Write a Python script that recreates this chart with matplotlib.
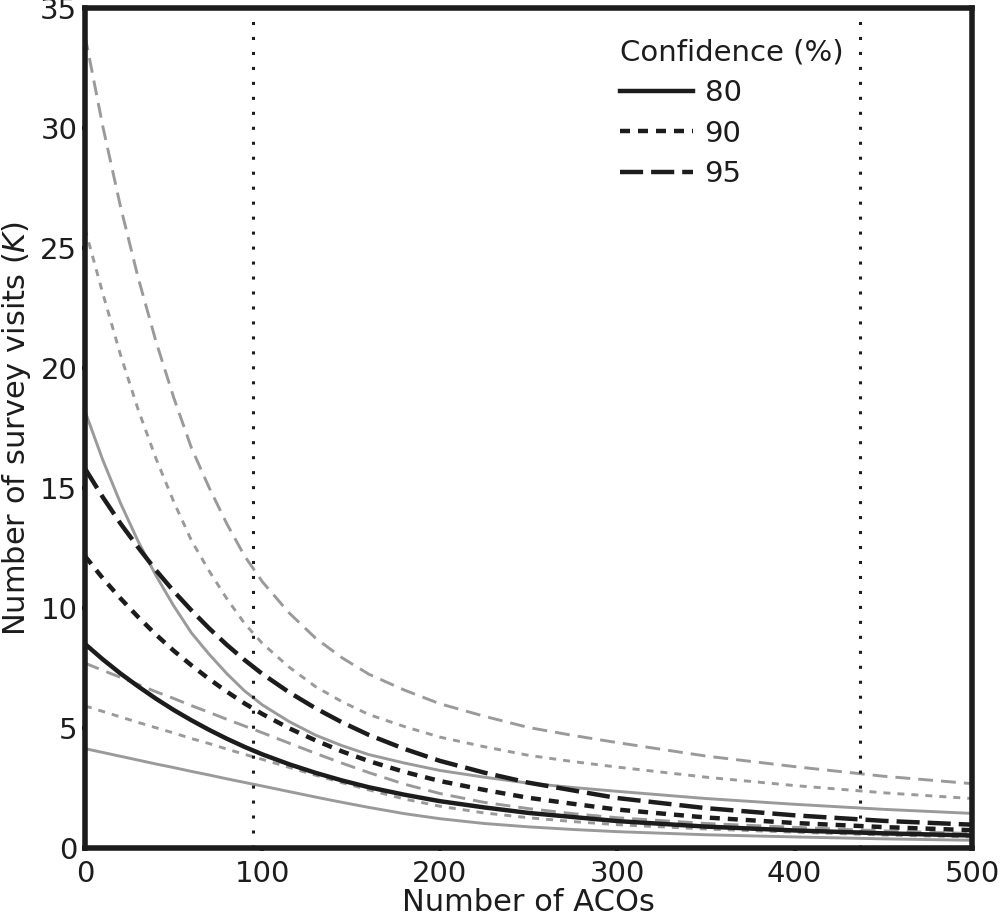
import numpy as np
import matplotlib
matplotlib.use('Agg')
import matplotlib.pyplot as plt
from matplotlib import rcParams

rcParams['font.family'] = ['DejaVu Sans']
rcParams['mathtext.fontset'] = 'dejavusans'

n_acos = [0, 10, 20, 30, 40, 50, 60, 70, 80, 90, 100, 115, 130, 145, 160,
          180, 200, 225, 250, 275, 300, 350, 400, 450, 500]

# black curves (middle scenario)
k_mid_80 = [8.50, 7.86, 7.27, 6.73, 6.22, 5.75, 5.32, 4.92, 4.55, 4.21, 3.90, 3.49, 3.13,
            2.81, 2.53, 2.22, 1.95, 1.69, 1.46, 1.29, 1.12, 0.89, 0.73, 0.61, 0.52]
k_mid_90 = [12.16, 11.24, 10.40, 9.62, 8.89, 8.22, 7.61, 7.04, 6.51, 6.02, 5.58, 4.99, 4.48,
            4.02, 3.62, 3.17, 2.79, 2.42, 2.09, 1.84, 1.60, 1.27, 1.04, 0.87, 0.74]
k_mid_95 = [15.81, 14.62, 13.52, 12.52, 11.57, 10.70, 9.90, 9.15, 8.46, 7.83, 7.25, 6.49, 5.82,
            5.23, 4.71, 4.13, 3.63, 3.14, 2.72, 2.40, 2.08, 1.66, 1.36, 1.13, 0.97]

# grey curves, upper scenario
k_hi_80 = [18.2, 16.17, 14.37, 12.77, 11.35, 10.09, 8.96, 8.07, 7.26, 6.54, 5.96, 5.27, 4.70,
           4.26, 3.89, 3.54, 3.23, 2.95, 2.70, 2.52, 2.36, 2.06, 1.82, 1.61, 1.44]
k_hi_90 = [25.8, 23.12, 20.55, 18.26, 16.23, 14.43, 12.81, 11.54, 10.38, 9.35, 8.52, 7.54, 6.72,
           6.09, 5.56, 5.06, 4.62, 4.22, 3.86, 3.60, 3.37, 2.95, 2.60, 2.30, 2.06]
k_hi_95 = [33.85, 30.08, 26.73, 23.75, 21.11, 18.77, 16.67, 15.01, 13.50, 12.16, 11.09, 9.80, 8.74,
           7.92, 7.24, 6.58, 6.01, 5.49, 5.02, 4.69, 4.39, 3.83, 3.39, 2.99, 2.68]

# grey curves, lower scenario
k_lo_80 = [4.14, 3.98, 3.82, 3.66, 3.50, 3.35, 3.19, 3.04, 2.88, 2.73, 2.58, 2.35, 2.12,
           1.90, 1.69, 1.43, 1.22, 1.02, 0.88, 0.77, 0.68, 0.55, 0.46, 0.38, 0.32]
k_lo_90 = [5.92, 5.69, 5.46, 5.23, 5.01, 4.79, 4.56, 4.35, 4.12, 3.90, 3.69, 3.36, 3.03,
           2.72, 2.42, 2.04, 1.74, 1.46, 1.26, 1.10, 0.97, 0.79, 0.66, 0.54, 0.46]
k_lo_95 = [7.70, 7.40, 7.11, 6.81, 6.51, 6.23, 5.93, 5.65, 5.36, 5.08, 4.80, 4.37, 3.94,
           3.53, 3.14, 2.66, 2.27, 1.90, 1.64, 1.43, 1.26, 1.02, 0.86, 0.71, 0.60]

vlines_x = [94.7, 436.9]
conf_labels = ['80', '90', '95']

BLACK = '#1c1c1c'
GREY = '#9a9a9a'
LW_B = 3.2
LW_G = 2.1

styles_black = ['-', (0, (2.25, 1.8)), (0, (5.2, 1.8))]
styles_grey = ['-', (0, (2.4, 2.4)), (0, (5.1, 2.75))]

fig = plt.figure(figsize=(10, 9.21), dpi=100)
ax = fig.add_axes([0.085, 0.0793, 0.887, 0.912])

for ys, ls in zip([k_hi_80, k_hi_90, k_hi_95], styles_grey):
    ax.plot(n_acos, ys, color=GREY, lw=LW_G, linestyle=ls)
for ys, ls in zip([k_lo_80, k_lo_90, k_lo_95], styles_grey):
    ax.plot(n_acos, ys, color=GREY, lw=LW_G, linestyle=ls)

handles = []
for ys, ls, lab in zip([k_mid_80, k_mid_90, k_mid_95], styles_black, conf_labels):
    h, = ax.plot(n_acos, ys, color=BLACK, lw=LW_B, linestyle=ls, label=lab)
    handles.append(h)

for vx in vlines_x:
    ax.axvline(vx, color=BLACK, lw=2.2, linestyle=(0, (1, 3.9)))

ax.set_xlim(0, 500)
ax.set_ylim(0, 35)
ax.set_xticks([0, 100, 200, 300, 400, 500])
ax.set_yticks([0, 5, 10, 15, 20, 25, 30, 35])

for sp in ax.spines.values():
    sp.set_linewidth(4)
    sp.set_color(BLACK)
    sp.set_zorder(5)

ax.tick_params(direction='out', length=2.5, width=3, color=BLACK,
               labelsize=21, labelcolor=BLACK)
ax.tick_params(axis='x', pad=6)
ax.tick_params(axis='y', pad=3)

ax.set_xlabel('Number of ACOs', fontsize=22, color=BLACK, labelpad=0)
ax.set_ylabel(r'Number of survey visits ($\mathit{K}$)', fontsize=22, color=BLACK, labelpad=5)

leg = ax.legend(handles=handles, title='Confidence (%)', loc='upper left',
                bbox_to_anchor=(0.62, 1 - 39 / 921), bbox_transform=fig.transFigure,
                frameon=False, fontsize=21, title_fontsize=21, alignment='left',
                handlelength=2.5, handletextpad=0.4, labelspacing=0.42,
                borderpad=0, borderaxespad=0)
for t in leg.get_texts():
    t.set_color(BLACK)
leg.get_title().set_color(BLACK)

fig.savefig('out.png', dpi=100)
